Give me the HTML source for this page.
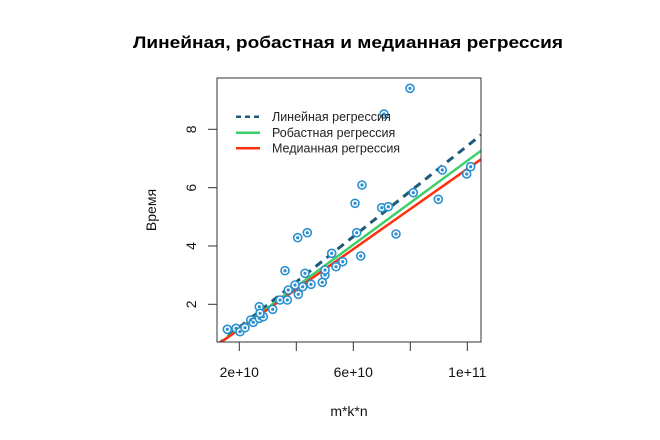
<!DOCTYPE html>
<html><head><meta charset="utf-8"><style>
html,body{margin:0;padding:0;background:#fff;}
svg{display:block;font-family:"Liberation Sans",Arial,sans-serif;}
</style></head><body>
<svg width="660" height="440" viewBox="0 0 660 440" xmlns="http://www.w3.org/2000/svg">
<text x="348" y="48" text-anchor="middle" font-size="17" font-weight="bold" textLength="430" lengthAdjust="spacingAndGlyphs">Линейная, робастная и медианная регрессия</text>
<defs><clipPath id="c"><rect x="217" y="78" width="264" height="264"/></clipPath></defs>
<g clip-path="url(#c)">
<line x1="217" y1="345" x2="481" y2="135" stroke="#1a5a7a" stroke-width="3" stroke-dasharray="8,6"/>
<line x1="217" y1="345" x2="481" y2="150.7" stroke="#3ecf6a" stroke-width="2.5"/>
<line x1="217" y1="345" x2="481" y2="159.3" stroke="#ff3010" stroke-width="2.5"/>
<g fill="#ffffff" stroke="#2a8fd0" stroke-width="1.6">
<circle cx="227.3" cy="329.3" r="4"/><circle cx="236" cy="328.3" r="4"/><circle cx="240" cy="331.7" r="4"/><circle cx="245" cy="327.7" r="4"/><circle cx="250.7" cy="320" r="4"/><circle cx="253.3" cy="322.3" r="4"/><circle cx="259.3" cy="306.7" r="4"/><circle cx="259.3" cy="318.3" r="4"/><circle cx="263.3" cy="316.7" r="4"/><circle cx="260" cy="313.3" r="4"/><circle cx="272.7" cy="309.3" r="4"/><circle cx="280" cy="300" r="4"/><circle cx="287.3" cy="300" r="4"/><circle cx="285" cy="270.7" r="4"/><circle cx="288.3" cy="290" r="4"/><circle cx="295" cy="285" r="4"/><circle cx="297.7" cy="237.7" r="4"/><circle cx="298.3" cy="294.3" r="4"/><circle cx="302.7" cy="286.7" r="4"/><circle cx="305" cy="273.3" r="4"/><circle cx="307.3" cy="232.7" r="4"/><circle cx="311" cy="284.3" r="4"/><circle cx="322.3" cy="282.3" r="4"/><circle cx="325" cy="275" r="4"/><circle cx="325" cy="270" r="4"/><circle cx="331.7" cy="253.3" r="4"/><circle cx="336" cy="266.7" r="4"/><circle cx="342.7" cy="261.7" r="4"/><circle cx="355" cy="203.3" r="4"/><circle cx="356.7" cy="232.7" r="4"/><circle cx="360.7" cy="256" r="4"/><circle cx="362" cy="185" r="4"/><circle cx="381.7" cy="207.7" r="4"/><circle cx="384" cy="114" r="4"/><circle cx="388.3" cy="206.7" r="4"/><circle cx="396" cy="234" r="4"/><circle cx="410" cy="88.3" r="4"/><circle cx="413.3" cy="192.7" r="4"/><circle cx="438.3" cy="199.3" r="4"/><circle cx="442.3" cy="170" r="4"/><circle cx="466.7" cy="174" r="4"/><circle cx="470.7" cy="166.7" r="4"/>
</g>
<g fill="#2a8fd0">
<circle cx="227.3" cy="329.3" r="1.6"/><circle cx="236" cy="328.3" r="1.6"/><circle cx="240" cy="331.7" r="1.6"/><circle cx="245" cy="327.7" r="1.6"/><circle cx="250.7" cy="320" r="1.6"/><circle cx="253.3" cy="322.3" r="1.6"/><circle cx="259.3" cy="306.7" r="1.6"/><circle cx="259.3" cy="318.3" r="1.6"/><circle cx="263.3" cy="316.7" r="1.6"/><circle cx="260" cy="313.3" r="1.6"/><circle cx="272.7" cy="309.3" r="1.6"/><circle cx="280" cy="300" r="1.6"/><circle cx="287.3" cy="300" r="1.6"/><circle cx="285" cy="270.7" r="1.6"/><circle cx="288.3" cy="290" r="1.6"/><circle cx="295" cy="285" r="1.6"/><circle cx="297.7" cy="237.7" r="1.6"/><circle cx="298.3" cy="294.3" r="1.6"/><circle cx="302.7" cy="286.7" r="1.6"/><circle cx="305" cy="273.3" r="1.6"/><circle cx="307.3" cy="232.7" r="1.6"/><circle cx="311" cy="284.3" r="1.6"/><circle cx="322.3" cy="282.3" r="1.6"/><circle cx="325" cy="275" r="1.6"/><circle cx="325" cy="270" r="1.6"/><circle cx="331.7" cy="253.3" r="1.6"/><circle cx="336" cy="266.7" r="1.6"/><circle cx="342.7" cy="261.7" r="1.6"/><circle cx="355" cy="203.3" r="1.6"/><circle cx="356.7" cy="232.7" r="1.6"/><circle cx="360.7" cy="256" r="1.6"/><circle cx="362" cy="185" r="1.6"/><circle cx="381.7" cy="207.7" r="1.6"/><circle cx="384" cy="114" r="1.6"/><circle cx="388.3" cy="206.7" r="1.6"/><circle cx="396" cy="234" r="1.6"/><circle cx="410" cy="88.3" r="1.6"/><circle cx="413.3" cy="192.7" r="1.6"/><circle cx="438.3" cy="199.3" r="1.6"/><circle cx="442.3" cy="170" r="1.6"/><circle cx="466.7" cy="174" r="1.6"/><circle cx="470.7" cy="166.7" r="1.6"/>
</g>
</g>
<rect x="217" y="78" width="264" height="264" fill="none" stroke="#333" stroke-width="1"/>
<line x1="236" y1="116.7" x2="260" y2="116.7" stroke="#1a5a7a" stroke-width="2.5" stroke-dasharray="5,4"/>
<line x1="236" y1="132.7" x2="260" y2="132.7" stroke="#3ecf6a" stroke-width="2.5"/>
<line x1="236" y1="148.3" x2="260" y2="148.3" stroke="#ff3010" stroke-width="2.5"/>
<g font-size="12.5" fill="#222">
<text x="272" y="121">Линейная регрессия</text>
<text x="272" y="137">Робастная регрессия</text>
<text x="272" y="152.5">Медианная регрессия</text>
</g>
<g stroke="#333" stroke-width="1">
<line x1="217" y1="129.3" x2="208" y2="129.3"/><line x1="217" y1="187.7" x2="208" y2="187.7"/><line x1="217" y1="246" x2="208" y2="246"/><line x1="217" y1="304.3" x2="208" y2="304.3"/>
<line x1="239.3" y1="342" x2="239.3" y2="351"/><line x1="296.3" y1="342" x2="296.3" y2="351"/><line x1="353.3" y1="342" x2="353.3" y2="351"/><line x1="410.3" y1="342" x2="410.3" y2="351"/><line x1="467.3" y1="342" x2="467.3" y2="351"/>
</g>
<g font-size="14" fill="#111" text-anchor="middle">
<text transform="translate(191,129.3) rotate(-90)" y="5">8</text>
<text transform="translate(191,187.7) rotate(-90)" y="5">6</text>
<text transform="translate(191,246) rotate(-90)" y="5">4</text>
<text transform="translate(191,304.3) rotate(-90)" y="5">2</text>
<text x="239.3" y="377">2e+10</text>
<text x="353.3" y="377">6e+10</text>
<text x="467.3" y="377">1e+11</text>
<text x="349" y="416">m*k*n</text>
<text transform="translate(156,210) rotate(-90)">Время</text>
</g>
</svg>
</body></html>
